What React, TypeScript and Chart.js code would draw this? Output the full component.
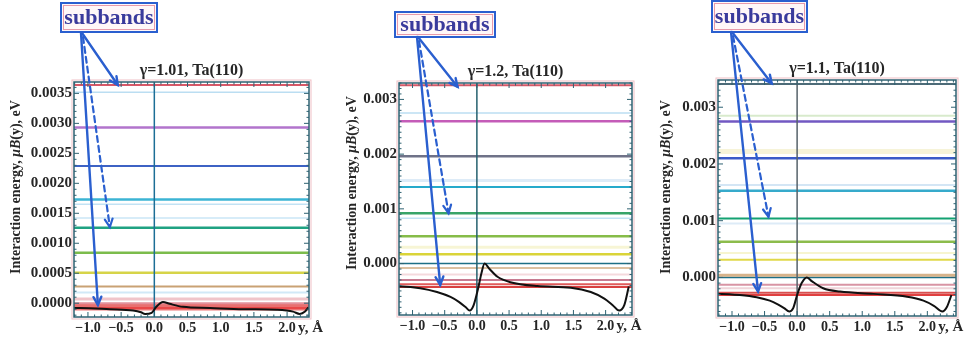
import React, { useEffect, useRef } from "react";
import { Chart, registerables } from "chart.js";

Chart.register(...registerables);
Chart.defaults.font.family = "'Liberation Serif', 'DejaVu Serif', serif";

// ---------------- shared text / ticks ----------------
const xTickValues = [-1.0, -0.5, 0.0, 0.5, 1.0, 1.5, 2.0];
const xTickLabels = ["−1.0", "−0.5", "0.0", "0.5", "1.0", "1.5", "2.0"];
const xAxisUnit = "y, Å";
const yAxisTitleParts = ["Interaction energy, ", "μB", "(y), eV"];
const annotationText = "subbands";

// ---------------- panel 1 (γ=1.01) ----------------
const p1Title = "γ=1.01, Ta(110)";
const p1XRange = [-1.21, 2.33];
const p1YRange = [-0.00023, 0.00369];
const p1YTicks = [0, 0.0005, 0.001, 0.0015, 0.002, 0.0025, 0.003, 0.0035];
const p1YTickLabels = ["0.0000", "0.0005", "0.0010", "0.0015", "0.0020", "0.0025", "0.0030", "0.0035"];
const p1CurveX = [-1.21, -1.12, -0.67, -0.32, -0.2, -0.14, -0.04, 0.03, 0.13, 0.23, 0.43, 0.84, 1.34, 1.84, 2.09, 2.19, 2.27, 2.32];
const p1CurveY = [-0.00008, -0.00008, -0.0001, -0.00012, -0.00015, -0.00018, -0.00016, -0.00006, 0.00002, -0.00001, -0.00006, -0.00008, -0.0001, -0.00011, -0.00014, -0.00018, -0.00014, -0.00007];
const p1Levels = [0.00364, 0.00352, 0.00293, 0.00229, 0.00173, 0.00165, 0.00142, 0.00126, 0.00084, 0.00051, 0.00028, 0.00018, 0.00007, 0.0, -0.00004, -0.00008, -0.00011];
const p1ArrowX = [-0.55, -0.67, -0.85];
const p1ArrowY = [0.00364, 0.00127, -0.00003];

// ---------------- panel 2 (γ=1.2) ----------------
const p2Title = "γ=1.2, Ta(110)";
const p2XRange = [-1.21, 2.41];
const p2YRange = [-0.00094, 0.0033];
const p2YTicks = [0, 0.001, 0.002, 0.003];
const p2YTickLabels = ["0.000", "0.001", "0.002", "0.003"];
const p2CurveX = [-1.21, -1.16, -0.88, -0.62, -0.41, -0.28, -0.18, -0.11, -0.05, 0.02, 0.07, 0.12, 0.19, 0.32, 0.52, 0.94, 1.46, 1.77, 1.98, 2.11, 2.21, 2.29, 2.36];
const p2CurveY = [-0.00042, -0.00042, -0.00045, -0.00052, -0.00061, -0.0007, -0.00079, -0.00086, -0.00076, -0.00045, -0.00018, 0.0, -0.00009, -0.00024, -0.00034, -0.00041, -0.00044, -0.00052, -0.00064, -0.00076, -0.00086, -0.00076, -0.00042];
const p2Levels = [0.00326, 0.00275, 0.0026, 0.00196, 0.00152, 0.0014, 0.00092, 0.00083, 0.0005, 0.0003, 0.00017, 0.0, -0.00008, -0.0002, -0.0003, -0.00038, -0.00043];
const p2ArrowX = [-0.3, -0.44, -0.57];
const p2ArrowY = [0.00323, 0.00092, -0.00039];

// ---------------- panel 3 (γ=1.1) ----------------
const p3Title = "γ=1.1, Ta(110)";
const p3XRange = [-1.215, 2.44];
const p3YRange = [-0.00068, 0.00348];
const p3YTicks = [0, 0.001, 0.002, 0.003];
const p3YTickLabels = ["0.000", "0.001", "0.002", "0.003"];
const p3CurveX = [-1.215, -1.16, -0.88, -0.62, -0.42, -0.29, -0.2, -0.12, -0.06, 0.0, 0.07, 0.15, 0.23, 0.4, 0.66, 1.17, 1.69, 1.94, 2.1, 2.23, 2.3, 2.37];
const p3CurveY = [-0.00029, -0.00029, -0.00031, -0.00035, -0.00041, -0.00048, -0.00054, -0.0006, -0.00054, -0.00031, -0.0001, 0.0, -0.00007, -0.00019, -0.00025, -0.00029, -0.00034, -0.00041, -0.0005, -0.0006, -0.00052, -0.00031];
const p3Levels = [0.00341, 0.00285, 0.00275, 0.00222, 0.0021, 0.00163, 0.00153, 0.00104, 0.00095, 0.00063, 0.00043, 0.00031, 0.00004, 0.0, -0.00013, -0.00019, -0.00027, -0.00031];
const p3ArrowX = [-0.39, -0.44, -0.6];
const p3ArrowY = [0.00342, 0.00107, -0.00025];

// ---------------- styles (kept apart from data) ----------------
type LS = { c: string; w: number };
const p1LevelStyles: LS[] = [
  { c: "#d85868", w: 2 }, { c: "rgba(120,190,230,0.5)", w: 1.5 }, { c: "#b274cc", w: 2.5 },
  { c: "#3d62c4", w: 2 }, { c: "#3cb4d4", w: 2.5 }, { c: "rgba(120,190,230,0.45)", w: 1.5 },
  { c: "rgba(140,200,235,0.35)", w: 2 }, { c: "#1fa282", w: 2.5 }, { c: "#7cbc4c", w: 2.5 },
  { c: "#d6d448", w: 2.5 }, { c: "#c9a274", w: 2 }, { c: "rgba(140,200,235,0.4)", w: 2 },
  { c: "rgba(225,140,150,0.5)", w: 3 }, { c: "#e2909a", w: 2 }, { c: "#e87070", w: 3 },
  { c: "#e84848", w: 3 }, { c: "rgba(235,100,100,0.6)", w: 2 },
];
const p2LevelStyles: LS[] = [
  { c: "#d85868", w: 2 }, { c: "rgba(120,190,230,0.5)", w: 1.5 }, { c: "#c45cb8", w: 2.5 },
  { c: "#6f7288", w: 2.5 }, { c: "rgba(170,205,235,0.4)", w: 3 }, { c: "#26aacb", w: 2 },
  { c: "#38a468", w: 2.5 }, { c: "rgba(120,190,230,0.45)", w: 1.5 }, { c: "#86bc48", w: 2.5 },
  { c: "rgba(235,230,150,0.4)", w: 3 }, { c: "#dad438", w: 2.5 }, { c: "#1e6f86", w: 1.5 },
  { c: "rgba(205,165,120,0.7)", w: 2 }, { c: "rgba(230,160,170,0.4)", w: 2 }, { c: "#c77a90", w: 2 },
  { c: "#e05a5a", w: 2 }, { c: "#d84040", w: 2 },
];
const p3LevelStyles: LS[] = [
  { c: "#4d6b78", w: 2 }, { c: "rgba(190,220,170,0.6)", w: 2 }, { c: "#7258c2", w: 2.5 },
  { c: "rgba(240,235,190,0.6)", w: 5 }, { c: "#3a5ac8", w: 2.5 }, { c: "rgba(170,205,235,0.5)", w: 2 },
  { c: "#36aacb", w: 2.5 }, { c: "#14a272", w: 2 }, { c: "rgba(170,205,235,0.4)", w: 2 },
  { c: "#8cbc4c", w: 2.5 }, { c: "rgba(240,235,160,0.5)", w: 2 }, { c: "#e0d848", w: 2 },
  { c: "rgba(205,160,110,0.8)", w: 3 }, { c: "#1e6f86", w: 1.5 }, { c: "#d894a4", w: 2 },
  { c: "rgba(225,170,180,0.5)", w: 2 }, { c: "#d85050", w: 2 }, { c: "#e04040", w: 2 },
];

const TEXT = "#262626";
const FRAME = "#2f6272";
const BLUE = "#2a5fcf";
const SERIF = "'Liberation Serif', 'DejaVu Serif', serif";

interface Spec {
  left: number; width: number; padTop: number; padRight: number; yWidth: number; xHeight: number;
  title: string; xRange: number[]; yRange: number[]; yTicks: number[]; yTickLabels: string[];
  curveX: number[]; curveY: number[]; levels: number[]; levelStyles: LS[];
  arrowX: number[]; arrowY: number[]; zeroColor: string;
  box: { x: number; y: number; w: number; h: number }; origin: { x: number; y: number };
  yTitle: { x: number; y: number }; yMinor: number;
}

const specs: Spec[] = [
  {
    left: 0, width: 335, padTop: 82, padRight: 26, yWidth: 74, xHeight: 27,
    title: p1Title, xRange: p1XRange, yRange: p1YRange, yTicks: p1YTicks, yTickLabels: p1YTickLabels,
    curveX: p1CurveX, curveY: p1CurveY, levels: p1Levels, levelStyles: p1LevelStyles,
    arrowX: p1ArrowX, arrowY: p1ArrowY, zeroColor: "#1c6e96",
    box: { x: 61, y: 3, w: 96, h: 29 }, origin: { x: 82, y: 33 }, yTitle: { x: 16, y: 187 }, yMinor: 0.0001,
  },
  {
    left: 335, width: 315, padTop: 83, padRight: 18, yWidth: 64, xHeight: 29,
    title: p2Title, xRange: p2XRange, yRange: p2YRange, yTicks: p2YTicks, yTickLabels: p2YTickLabels,
    curveX: p2CurveX, curveY: p2CurveY, levels: p2Levels, levelStyles: p2LevelStyles,
    arrowX: p2ArrowX, arrowY: p2ArrowY, zeroColor: "#24606e",
    box: { x: 60, y: 12, w: 100, h: 25 }, origin: { x: 83, y: 37 }, yTitle: { x: 17, y: 183 }, yMinor: 0.0001,
  },
  {
    left: 650, width: 319, padTop: 80, padRight: 13, yWidth: 68, xHeight: 28,
    title: p3Title, xRange: p3XRange, yRange: p3YRange, yTicks: p3YTicks, yTickLabels: p3YTickLabels,
    curveX: p3CurveX, curveY: p3CurveY, levels: p3Levels, levelStyles: p3LevelStyles,
    arrowX: p3ArrowX, arrowY: p3ArrowY, zeroColor: "#56626a",
    box: { x: 62, y: 1, w: 95, h: 31 }, origin: { x: 82, y: 32 }, yTitle: { x: 16, y: 187 }, yMinor: 0.0001,
  },
];

function drawArrow(ctx: CanvasRenderingContext2D, x1: number, y1: number, x2: number, y2: number, dashed: boolean) {
  const ang = Math.atan2(y2 - y1, x2 - x1);
  ctx.save();
  ctx.strokeStyle = BLUE;
  ctx.lineWidth = dashed ? 2.2 : 2.4;
  ctx.lineCap = "round";
  ctx.setLineDash(dashed ? [6, 4] : []);
  ctx.beginPath();
  ctx.moveTo(x1, y1);
  ctx.lineTo(x2, y2);
  ctx.stroke();
  ctx.setLineDash([]);
  const head = 9, spread = 0.45;
  ctx.beginPath();
  ctx.moveTo(x2 - head * Math.cos(ang - spread), y2 - head * Math.sin(ang - spread));
  ctx.lineTo(x2, y2);
  ctx.lineTo(x2 - head * Math.cos(ang + spread), y2 - head * Math.sin(ang + spread));
  ctx.stroke();
  ctx.restore();
}

function makeOverlay(spec: Spec) {
  return {
    id: "overlay",
    afterDraw(chart: any) {
      const ctx: CanvasRenderingContext2D = chart.ctx;
      const { left, right, top, bottom } = chart.chartArea;
      const xs = chart.scales.x;
      const ys = chart.scales.y;
      ctx.save();
      // frame (with faint pink fringe)
      ctx.strokeStyle = "rgba(225,140,150,0.55)";
      ctx.lineWidth = 1;
      ctx.strokeRect(left - 2, top - 2, right - left + 4, bottom - top + 4);
      ctx.strokeStyle = FRAME;
      ctx.lineWidth = 1.5;
      ctx.strokeRect(left, top, right - left, bottom - top);
      // frame ticks
      ctx.lineWidth = 1;
      const seg = (a: number, b: number, c: number, d: number) => {
        ctx.beginPath(); ctx.moveTo(a, b); ctx.lineTo(c, d); ctx.stroke();
      };
      const xMinor = 0.1;
      for (let k = Math.ceil(spec.xRange[0] / xMinor); k <= Math.floor(spec.xRange[1] / xMinor); k++) {
        const v = k * xMinor;
        const major = k % 5 === 0;
        const len = major ? 5 : 2.5;
        const px = xs.getPixelForValue(v);
        seg(px, bottom, px, bottom - len);
        seg(px, top, px, top + len);
      }
      for (let k = Math.ceil(spec.yRange[0] / spec.yMinor); k <= Math.floor(spec.yRange[1] / spec.yMinor); k++) {
        const v = k * spec.yMinor;
        const major = spec.yTicks.some((t) => Math.abs(t - v) < 1e-9);
        const len = major ? 5 : 2.5;
        const py = ys.getPixelForValue(v);
        seg(left, py, left + len, py);
        seg(right, py, right - len, py);
      }
      // title
      ctx.fillStyle = TEXT;
      ctx.font = `bold 16px ${SERIF}`;
      ctx.textAlign = "center";
      ctx.textBaseline = "middle";
      ctx.fillText(spec.title, (left + right) / 2, top - 11);
      // x unit label
      ctx.font = `bold 15px ${SERIF}`;
      ctx.textAlign = "left";
      ctx.fillText(xAxisUnit, xs.getPixelForValue(2) + 11, bottom + 11.5);
      // y axis title (mixed fonts)
      ctx.save();
      ctx.translate(spec.yTitle.x, spec.yTitle.y);
      ctx.rotate(-Math.PI / 2);
      const fonts = [`bold 14px ${SERIF}`, `italic bold 14px ${SERIF}`, `bold 14px ${SERIF}`];
      let total = 0;
      yAxisTitleParts.forEach((t, i) => { ctx.font = fonts[i]; total += ctx.measureText(t).width; });
      let cx = -total / 2;
      ctx.textAlign = "left";
      yAxisTitleParts.forEach((t, i) => {
        ctx.font = fonts[i];
        ctx.fillText(t, cx, 0);
        cx += ctx.measureText(t).width;
      });
      ctx.restore();
      // annotation box
      const b = spec.box;
      ctx.fillStyle = "#fff7f8";
      ctx.fillRect(b.x, b.y, b.w, b.h);
      ctx.strokeStyle = "rgba(225,130,150,0.8)";
      ctx.lineWidth = 1;
      ctx.strokeRect(b.x + 2.5, b.y + 2.5, b.w - 5, b.h - 5);
      ctx.strokeStyle = BLUE;
      ctx.lineWidth = 2;
      ctx.strokeRect(b.x, b.y, b.w, b.h);
      ctx.fillStyle = "#3a3a9c";
      ctx.font = `bold 22px ${SERIF}`;
      ctx.textAlign = "center";
      ctx.textBaseline = "middle";
      ctx.fillText(annotationText, b.x + b.w / 2, b.y + b.h / 2 + 1);
      // arrows
      const o = spec.origin;
      const starts = [[o.x, o.y], [o.x + 1, o.y + 4], [o.x - 1, o.y]];
      spec.arrowX.forEach((ax, i) => {
        const tx = xs.getPixelForValue(ax);
        const ty = ys.getPixelForValue(spec.arrowY[i]);
        drawArrow(ctx, starts[i][0], starts[i][1], tx, ty, i === 1);
      });
      ctx.restore();
    },
  };
}

function Panel({ spec }: { spec: Spec }) {
  const ref = useRef<HTMLCanvasElement>(null);
  useEffect(() => {
    const [xMin, xMax] = spec.xRange;
    const [yMin, yMax] = spec.yRange;
    const datasets: any[] = [];
    datasets.push({
      data: spec.curveX.map((x, i) => ({ x, y: spec.curveY[i] })),
      borderColor: "#111111",
      borderWidth: 2,
      cubicInterpolationMode: "monotone",
      pointRadius: 0,
    });
    datasets.push({
      data: [{ x: 0, y: yMin }, { x: 0, y: yMax }],
      borderColor: spec.zeroColor,
      borderWidth: 1.5,
      pointRadius: 0,
    });
    spec.levels.forEach((v, i) => {
      datasets.push({
        data: [{ x: xMin, y: v }, { x: xMax, y: v }],
        borderColor: spec.levelStyles[i].c,
        borderWidth: spec.levelStyles[i].w,
        pointRadius: 0,
      });
    });
    const xFont = { family: SERIF, size: 14, weight: "bold" as const };
    const yFont = { family: SERIF, size: 15, weight: "bold" as const };
    const chart = new Chart(ref.current!, {
      type: "line",
      data: { datasets },
      plugins: [makeOverlay(spec)],
      options: {
        responsive: false,
        animation: false,
        events: [],
        layout: { padding: { top: spec.padTop, right: spec.padRight, bottom: 0, left: 0 } },
        plugins: { legend: { display: false }, tooltip: { enabled: false }, title: { display: false } },
        scales: {
          x: {
            type: "linear",
            min: xMin,
            max: xMax,
            grid: { display: false, drawTicks: false },
            border: { display: false },
            afterBuildTicks: (s: any) => { s.ticks = xTickValues.map((value) => ({ value })); },
            afterFit: (s: any) => { s.height = spec.xHeight; },
            ticks: {
              autoSkip: false,
              maxRotation: 0,
              padding: 3,
              color: TEXT,
              font: xFont,
              callback: (v: any) => xTickLabels[xTickValues.indexOf(Number(v))] ?? "",
            },
          },
          y: {
            type: "linear",
            min: yMin,
            max: yMax,
            grid: { display: false, drawTicks: false },
            border: { display: false },
            afterBuildTicks: (s: any) => { s.ticks = spec.yTicks.map((value) => ({ value })); },
            afterFit: (s: any) => { s.width = spec.yWidth; },
            ticks: {
              autoSkip: false,
              padding: 2,
              color: TEXT,
              font: yFont,
              callback: (v: any) => {
                const idx = spec.yTicks.findIndex((t) => Math.abs(t - Number(v)) < 1e-9);
                return idx >= 0 ? spec.yTickLabels[idx] : "";
              },
            },
          },
        },
      } as any,
    });
    return () => chart.destroy();
  }, [spec]);
  return (
    <canvas
      ref={ref}
      width={spec.width}
      height={344}
      style={{ position: "absolute", left: spec.left, top: 0, width: spec.width, height: 344 }}
    />
  );
}

export default function App() {
  return (
    <div style={{ position: "fixed", left: 0, top: 0, width: 969, height: 344, background: "#ffffff", overflow: "hidden" }}>
      {specs.map((s, i) => (
        <Panel key={i} spec={s} />
      ))}
    </div>
  );
}
